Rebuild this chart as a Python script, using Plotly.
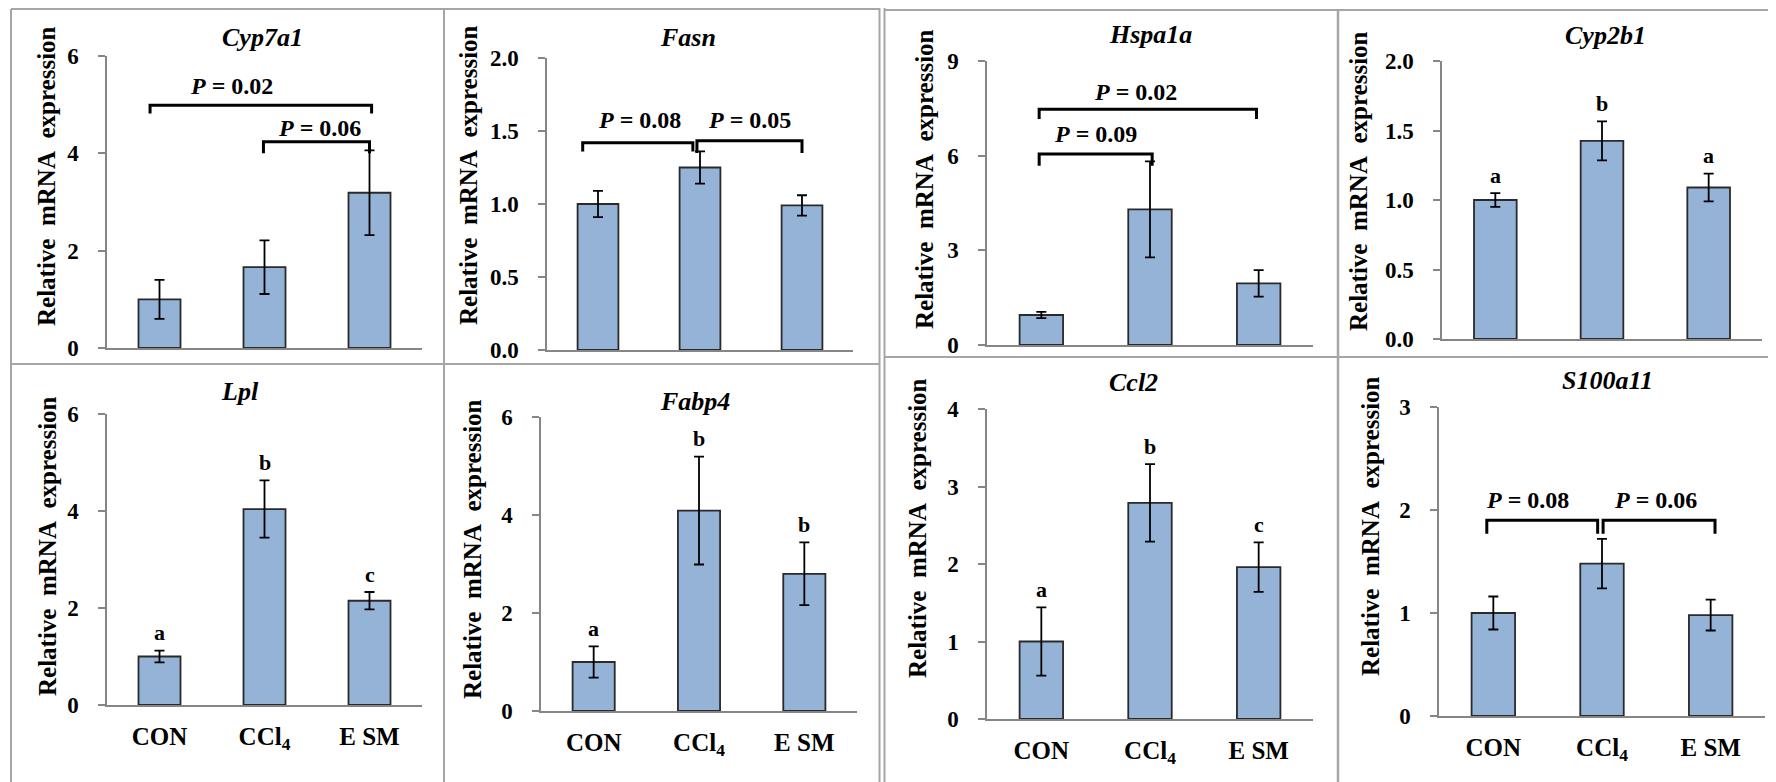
import plotly.graph_objects as go

# target picture size, and the page's default body margin that offsets the figure
W_PAGE, H_PAGE = 1776, 782
OFF = 8
W, H = W_PAGE - OFF, H_PAGE - OFF

# ---------------- data ----------------
categories = ["CON", "CCl<sub>4</sub>", "E SM"]
genes = ["Cyp7a1", "Fasn", "Hspa1a", "Cyp2b1", "Lpl", "Fabp4", "Ccl2", "S100a11"]

cyp7a1_mean = [1.00, 1.66, 3.19]
cyp7a1_err = [0.40, 0.55, 0.87]
fasn_mean = [1.00, 1.25, 0.99]
fasn_err = [0.09, 0.11, 0.07]
hspa1a_mean = [0.95, 4.30, 1.95]
hspa1a_err = [0.10, 1.52, 0.42]
cyp2b1_mean = [1.00, 1.425, 1.09]
cyp2b1_err = [0.05, 0.14, 0.10]
lpl_mean = [1.00, 4.04, 2.15]
lpl_err = [0.12, 0.59, 0.18]
fabp4_mean = [1.00, 4.09, 2.80]
fabp4_err = [0.32, 1.10, 0.64]
ccl2_mean = [1.00, 2.79, 1.96]
ccl2_err = [0.44, 0.50, 0.32]
s100a11_mean = [1.00, 1.48, 0.98]
s100a11_err = [0.16, 0.24, 0.15]

means = [cyp7a1_mean, fasn_mean, hspa1a_mean, cyp2b1_mean,
         lpl_mean, fabp4_mean, ccl2_mean, s100a11_mean]
errs = [cyp7a1_err, fasn_err, hspa1a_err, cyp2b1_err,
        lpl_err, fabp4_err, ccl2_err, s100a11_err]

y_max = [6, 2, 9, 2, 6, 6, 4, 3]
y_dtick = [2, 0.5, 3, 0.5, 2, 2, 1, 1]

sig_letters = {
    "Cyp2b1": ["a", "b", "a"],
    "Lpl": ["a", "b", "c"],
    "Fabp4": ["a", "b", "b"],
    "Ccl2": ["a", "b", "c"],
}
p_values = {
    "Cyp7a1": ["0.02", "0.06"],
    "Fasn": ["0.08", "0.05"],
    "Hspa1a": ["0.02", "0.09"],
    "S100a11": ["0.08", "0.06"],
}

# ---------------- layout (pixel geometry in the picture) ----------------
plot_px = [
    (107, 422, 56, 348),
    (547, 853, 58, 350),
    (987, 1313, 61, 345),
    (1442, 1762, 61, 339),
    (107, 422, 414, 705),
    (541, 857, 417, 711),
    (987, 1313, 409, 719),
    (1439, 1765, 407, 716),
]
title_px = [(263, 38), (688, 37), (1150, 34), (1605, 36),
            (240, 391), (695, 401), (1133, 382), (1607, 380)]
ylab_px = [(47, 176), (468, 175), (925, 179), (1358, 181),
           (47, 546), (472, 549), (917, 528), (1370, 526)]

bracket_geom = {
    "Cyp7a1": [(-0.09, 2.02, 4.99, 4.82, 0.69, 5.39),
               (0.99, 2.00, 4.24, 4.00, 1.52, 4.52)],
    "Fasn": [(-0.15, 0.93, 1.42, 1.36, 0.41, 1.575),
             (0.97, 2.00, 1.433, 1.35, 1.49, 1.575)],
    "Hspa1a": [(-0.02, 1.98, 7.47, 7.16, 0.87, 8.03),
               (-0.02, 1.02, 6.05, 5.68, 0.50, 6.70)],
    "S100a11": [(-0.06, 0.96, 1.90, 1.77, 0.31, 2.10),
                (1.01, 2.04, 1.90, 1.77, 1.49, 2.10)],
}

FONT = "Liberation Serif"
BAR_COLOR = "#95B3D7"
AXIS_COLOR = "#868686"


def px_x(px):
    return min(max((px - OFF) / W, 0.0), 1.0)


def px_y(py):
    return min(max(1 - (py - OFF) / H, 0.0), 1.0)


fig = go.Figure()
annotations = []
shapes = []

for i, g in enumerate(genes):
    k = i + 1
    xa = "x" if k == 1 else f"x{k}"
    ya = "y" if k == 1 else f"y{k}"
    fig.add_trace(go.Bar(
        x=[0, 1, 2], y=means[i],
        width=0.4,
        marker=dict(color=BAR_COLOR, line=dict(color="#2a2a2a", width=1.8)),
        error_y=dict(type="data", array=errs[i], color="black",
                     thickness=1.8, width=5),
        xaxis=xa, yaxis=ya, showlegend=False, hoverinfo="skip",
    ))
    x0, x1, yt, yb = plot_px[i]
    bottom_row = i >= 4
    fmt = ".1f" if y_dtick[i] < 1 else "d"
    xaxis_cfg = dict(
        domain=[px_x(x0), px_x(x1)], anchor=ya, automargin=False,
        range=[-0.5, 2.5], tickmode="array", tickvals=[0, 1, 2],
        ticks="", showline=True, linecolor=AXIS_COLOR, linewidth=1.5,
        showgrid=False, zeroline=False, fixedrange=True,
        showticklabels=bottom_row,
    )
    if bottom_row:
        xaxis_cfg.update(
            ticktext=[f"<b>{c}</b>" for c in categories],
            tickfont=dict(family=FONT, size=25, color="black"),
            ticklabelstandoff=8,
        )
    fig.layout[f"xaxis{'' if k == 1 else k}"] = xaxis_cfg
    fig.layout[f"yaxis{'' if k == 1 else k}"] = dict(
        domain=[px_y(yb), px_y(yt)], anchor=xa, automargin=False,
        range=[0, y_max[i]], tick0=0, dtick=y_dtick[i], tickformat=fmt,
        ticks="outside", ticklen=7, tickwidth=1.5, tickcolor=AXIS_COLOR,
        showline=True, linecolor=AXIS_COLOR, linewidth=1.5,
        showgrid=False, zeroline=False, fixedrange=True,
        tickprefix="<b>", ticksuffix="</b>",
        tickfont=dict(family=FONT, size=23, color="black"),
        ticklabelstandoff=15,
    )
    tx, ty = title_px[i]
    annotations.append(dict(
        x=px_x(tx), y=px_y(ty), xref="paper", yref="paper",
        text=f"<b><i>{g}</i></b>", showarrow=False,
        font=dict(family=FONT, size=26, color="black"),
        xanchor="center", yanchor="middle"))
    lx, ly = ylab_px[i]
    annotations.append(dict(
        x=px_x(lx), y=px_y(ly), xref="paper", yref="paper",
        text="<b>Relative\u00a0 mRNA\u00a0 expression</b>", showarrow=False,
        textangle=-90,
        font=dict(family=FONT, size=25, color="black"),
        xanchor="center", yanchor="middle"))
    if g in sig_letters:
        for j, lt in enumerate(sig_letters[g]):
            annotations.append(dict(
                x=j, y=means[i][j] + errs[i][j], xref=xa, yref=ya,
                text=f"<b>{lt}</b>", showarrow=False, yshift=18,
                font=dict(family=FONT, size=22, color="black"),
                xanchor="center", yanchor="middle"))
    if g in p_values:
        for pv, (bx0, bx1, by, bl, lx_, ly_) in zip(p_values[g], bracket_geom[g]):
            shapes.append(dict(
                type="path", xref=xa, yref=ya,
                path=f"M {bx0},{bl} L {bx0},{by} L {bx1},{by} L {bx1},{bl}",
                line=dict(color="black", width=3)))
            annotations.append(dict(
                x=lx_, y=ly_, xref=xa, yref=ya,
                text=f"<b><i>P</i> = {pv}</b>", showarrow=False,
                font=dict(family=FONT, size=24, color="black"),
                xanchor="center", yanchor="middle"))

BORDER = "#a6a6a6"
border_lines = [
    (11, 9, 11, 782), (444, 9, 444, 782), (879.5, 0, 879.5, 782),
    (884.5, 0, 884.5, 782), (1338, 9, 1338, 782),
    (11, 9, 879, 9), (884, 10, 1776, 10),
    (11, 364, 879, 364), (884, 357, 1776, 357),
]
for (ax0, ay0, ax1, ay1) in border_lines:
    shapes.append(dict(type="line", xref="paper", yref="paper",
                       x0=px_x(ax0), y0=px_y(ay0), x1=px_x(ax1), y1=px_y(ay1),
                       line=dict(color=BORDER, width=2.5 if ax0 == 1338 else 2)))

fig.update_layout(
    width=W, height=H, autosize=False,
    margin=dict(l=0, r=0, t=0, b=0, autoexpand=False),
    paper_bgcolor="white", plot_bgcolor="white",
    font=dict(family=FONT, color="black"),
    annotations=annotations, shapes=shapes,
)

fig.write_html("out.html")
